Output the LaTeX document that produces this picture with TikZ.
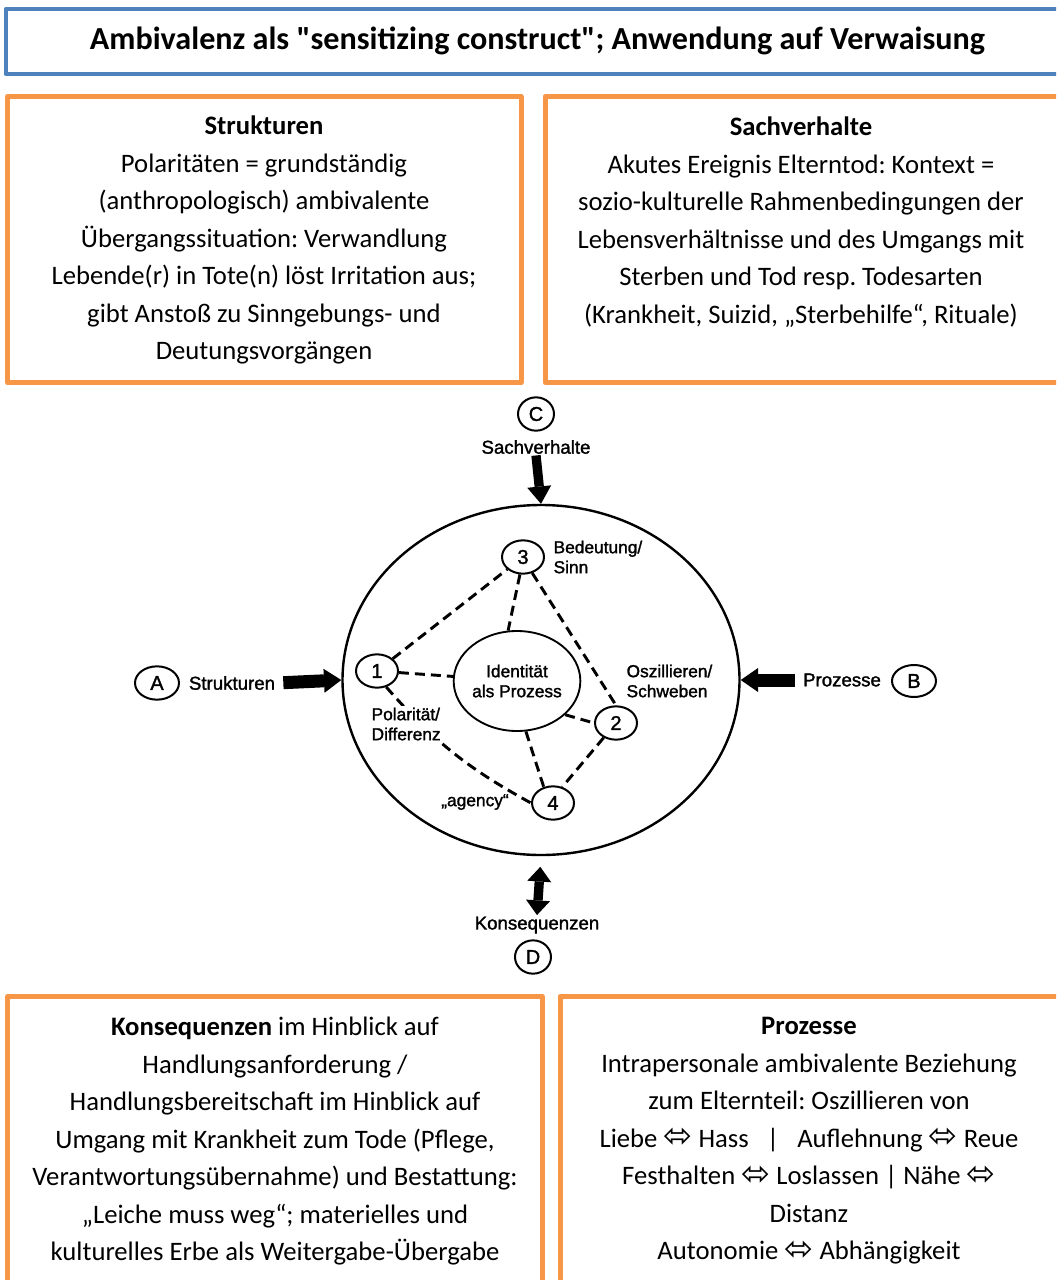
\documentclass[tikz,border=0pt]{standalone}
\usepackage{fontspec}
\setmainfont{Carlito}[Ligatures=TeXOff]
\newfontfamily\scanfont{Liberation Sans}[FakeBold=1.5]
\newfontfamily\symfont{DejaVu Sans}
\usetikzlibrary{arrows.meta,shapes.geometric}
\definecolor{boxorange}{HTML}{F79646}
\definecolor{boxblue}{HTML}{4F81BD}
\frenchspacing
\newcommand{\lrarr}{{\symfont\raisebox{-0.03em}{\scalebox{1.3}{⬄}}}}
\tikzset{
  obox/.style={draw=boxorange, line width=3.75pt, line join=round},
  tbox/.style={draw=boxblue, line width=3pt, line join=round},
  boxtext/.style={anchor=north, align=center, inner sep=0pt, font=\fontsize{20}{28.125}\selectfont},
  letternode/.style={ellipse, draw, line width=1.5pt, inner sep=0pt, minimum width=33pt, minimum height=25pt, font=\scanfont\fontsize{15}{17}\selectfont},
  numnode/.style={ellipse, draw, line width=1.5pt, inner sep=0pt, minimum width=31.5pt, minimum height=25pt, font=\scanfont\fontsize{15}{17}\selectfont},
  inlab/.style={font=\scanfont\fontsize{13}{15}\selectfont, align=left, inner sep=1pt, anchor=west},
  outlab/.style={font=\scanfont\fontsize{14}{16}\selectfont, inner sep=1pt},
  dashcon/.style={line width=2.2pt, dash pattern=on 7.5pt off 4.5pt},
  fatarrow/.style={line width=#1, -{Triangle[length=13pt, width=18pt, line width=0pt]}},
}
\begin{document}
\begin{tikzpicture}[x=0.75pt,y=-0.75pt]
\useasboundingbox (0,0) rectangle (1056,1280);
\clip (0,0) rectangle (1056,1280);
\fill[white] (0,0) rectangle (1056,1280);

% title
\draw[tbox] (5.5,9) rectangle (1075,74);
\node[font=\bfseries\fontsize{24.1}{28}\selectfont, inner sep=0pt] (title) at (537.5,41)
  {Ambivalenz als "sensitizing construct"; Anwendung auf Verwaisung};

% top boxes
\draw[obox] (7.5,96.5) rectangle (521,382.5);
\node[boxtext] (strukT) at (264,108) {\strut\textbf{Strukturen}\\Polaritäten = grundständig\\(anthropologisch) ambivalente\\Übergangssituation: Verwandlung\\Lebende(r) in Tote(n) löst Irritation aus;\\gibt Anstoß zu Sinngebungs- und\\Deutungsvorgängen};

\draw[obox] (545,96.5) rectangle (1075,382.5);
\node[boxtext] (sachT) at (801,109) {\strut\textbf{Sachverhalte}\\Akutes Ereignis Elterntod: Kontext =\\sozio-kulturelle Rahmenbedingungen der\\Lebensverhältnisse und des Umgangs mit\\Sterben und Tod resp. Todesarten\\(Krankheit, Suizid, „Sterbehilfe“, Rituale)};

% bottom boxes
\draw[obox] (7.5,996.5) rectangle (542,1300);
\node[boxtext] (konsT) at (275,1009) {\strut\textbf{Konsequenzen} im Hinblick auf\\Handlungsanforderung /\\Handlungsbereitschaft im Hinblick auf\\Umgang mit Krankheit zum Tode (Pflege,\\Verantwortungsübernahme) und Bestattung:\\„Leiche muss weg“; materielles und\\kulturelles Erbe als Weitergabe-Übergabe};

\draw[obox] (560,996.5) rectangle (1075,1300);
\node[boxtext] (prozT) at (809,1008) {\strut\textbf{Prozesse}\\Intrapersonale ambivalente Beziehung\\zum Elternteil: Oszillieren von\\Liebe \lrarr{} Hass\ \ \ |\ \ \ Auflehnung \lrarr{} Reue\\Festhalten \lrarr{} Loslassen | Nähe \lrarr\\Distanz\\Autonomie \lrarr{} Abhängigkeit};

% diagram
\node[ellipse, draw, line width=1.8pt, minimum width=297.75pt, minimum height=262.5pt, inner sep=0pt] (big) at (541,680) {};

\node[letternode, minimum width=27pt] (C) at (536,414) {C};
\node[outlab] (sachL) at (536,447) {Sachverhalte};
\node[letternode] (A) at (157,683) {A};
\node[outlab] (strukL) at (232,683) {Strukturen};
\node[outlab] (prozL) at (842,680) {Prozesse};
\node[letternode, minimum height=24pt] (B) at (914,681) {B};
\node[outlab] (konsL) at (537,925) {Konsequenzen};
\node[letternode, minimum width=27pt] (D) at (533,957) {D};

\draw[fatarrow=7pt] (sachL.south) -- (big.north);
\draw[fatarrow=9.75pt, shorten <=5pt] (strukL.east) -- (big.west);
\draw[fatarrow=9.75pt, shorten <=5pt] (prozL.west) -- (big.east);
\draw[line width=7pt, {Triangle[length=11pt, width=18pt, line width=0pt]}-{Triangle[length=11pt, width=18pt, line width=0pt]}, shorten <=8pt] (big.south) -- (konsL.north);

\node[ellipse, draw, line width=1.4pt, minimum width=87pt, minimum height=75pt, inner sep=0pt, align=center, font=\scanfont\fontsize{13}{15}\selectfont] (id) at (517,681) {Identität\\als Prozess};
\node[numnode] (n3) at (523,557) {3};
\node[numnode] (n1) at (377,671) {1};
\node[numnode] (n2) at (616,723) {2};
\node[numnode] (n4) at (553,803) {4};

\draw[dashcon] (n1) -- (n3);
\draw[dashcon] (n1) -- (id);
\draw[dashcon] (n1.-60) to[bend right=10] (n4.west);
\draw[dashcon] (n3.-100) -- (id.100);
\draw[dashcon] (n3.-60) -- (n2.north);
\draw[dashcon] (id.-35) -- (n2.west);
\draw[dashcon] (id.-80) -- (n4.120);
\draw[dashcon] (n2.-130) -- (n4.60);

\node[inlab] (bedL) at (552,557) {Bedeutung/\\Sinn};
\node[inlab] (oszL) at (625,681) {Oszillieren/\\Schweben};
\node[inlab, fill=white] (polL) at (370,724) {Polarität/\\Differenz};
\node[inlab, anchor=center] (agL) at (475,802) {„agency“};
\end{tikzpicture}
\end{document}
